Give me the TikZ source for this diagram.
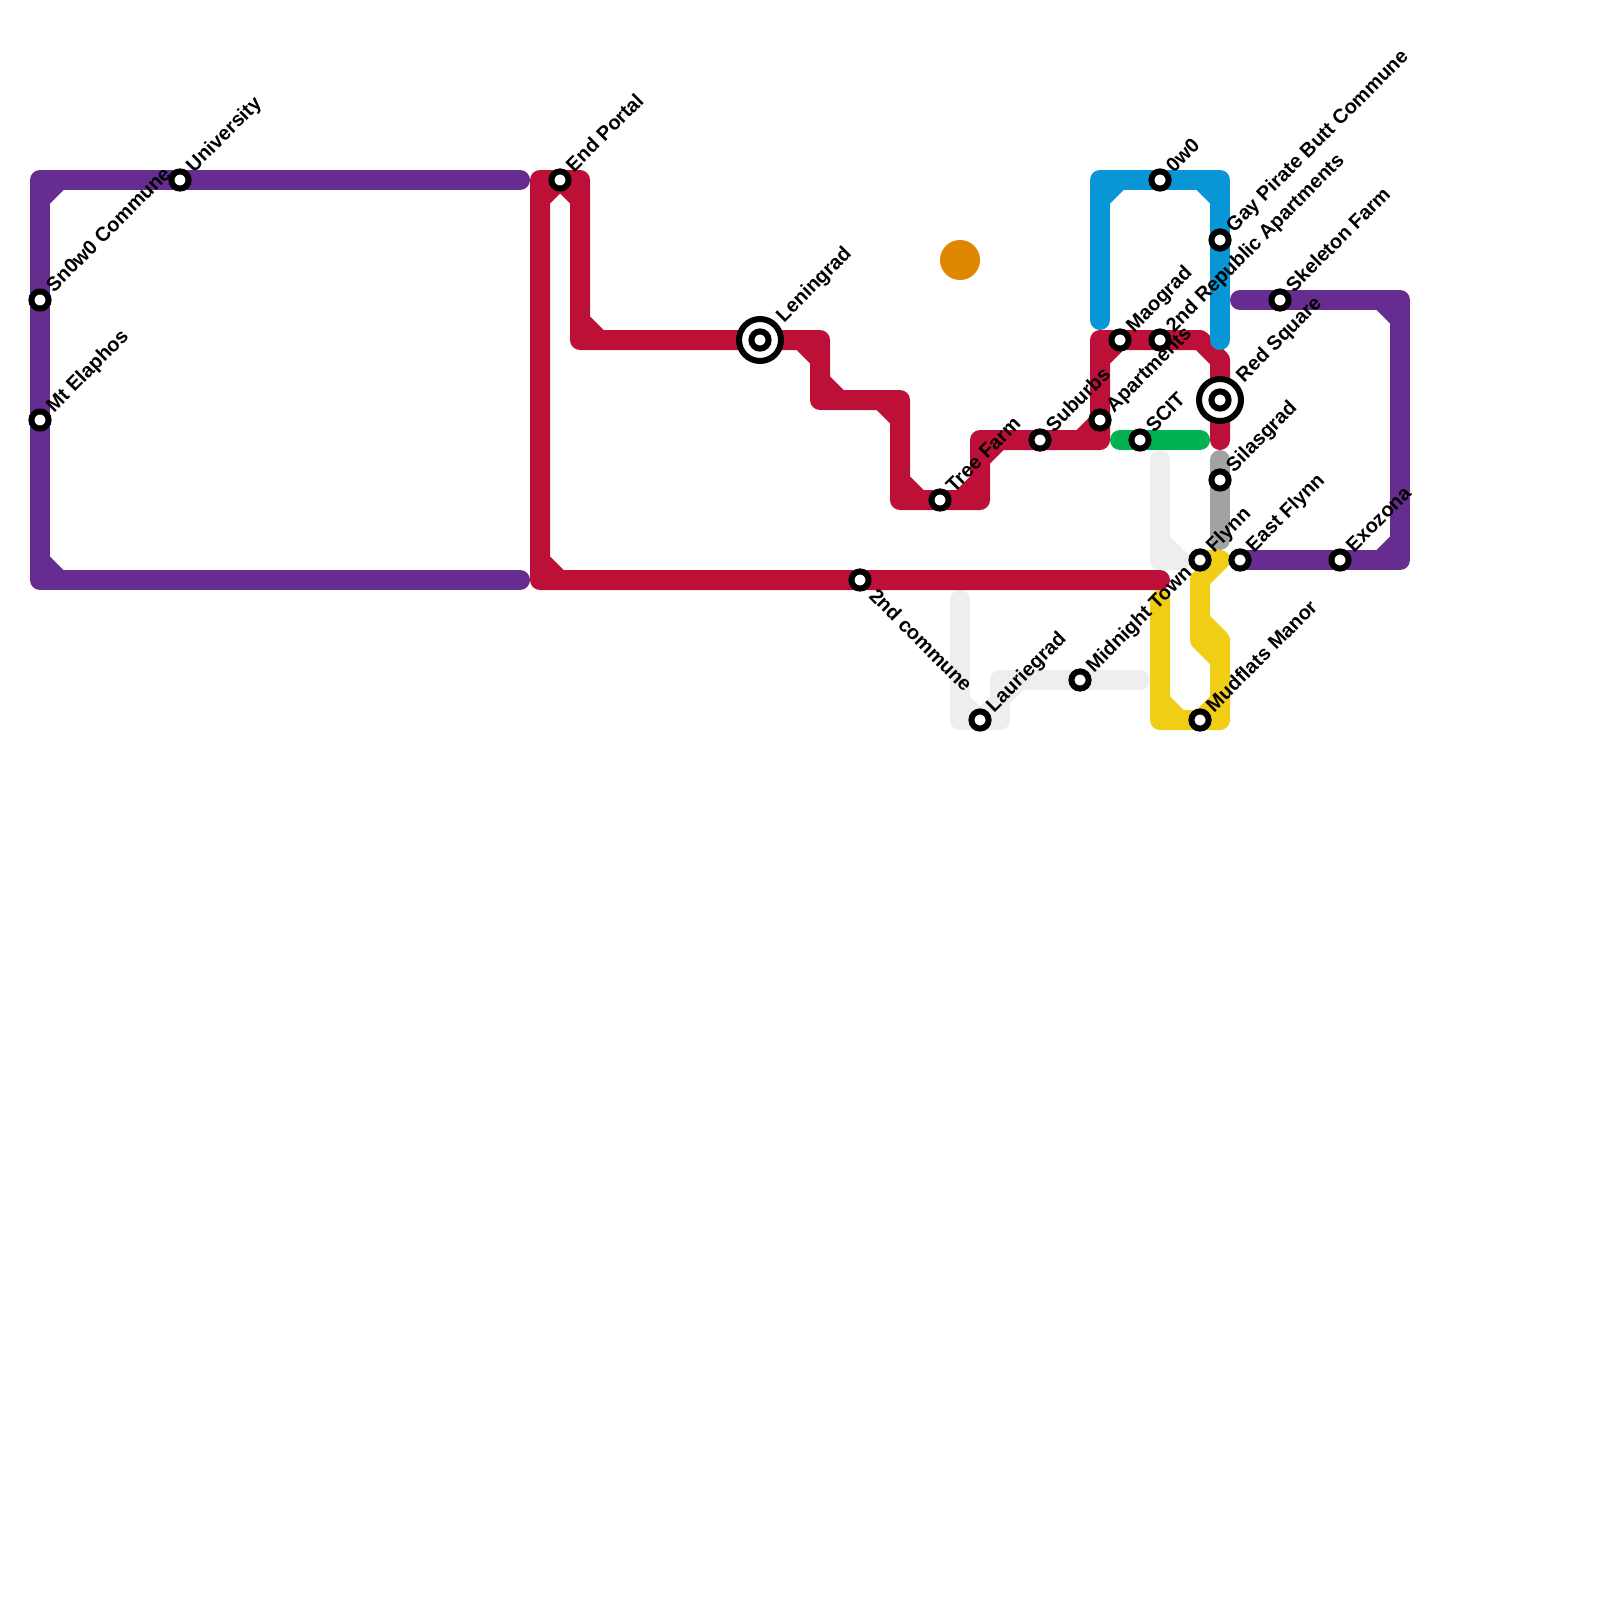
\documentclass[tikz,border=0pt]{standalone}
\usepackage{fontspec}
\setmainfont{Liberation Sans}
\definecolor{cpurple}{HTML}{662C90}
\definecolor{cred}{HTML}{BD1038}
\definecolor{cblue}{HTML}{0896D7}
\definecolor{cgreen}{HTML}{00B251}
\definecolor{cyellow}{HTML}{F0CE15}
\definecolor{cgray}{HTML}{A2A2A2}
\definecolor{clight}{HTML}{EEEEEE}
\definecolor{corange}{HTML}{DF8600}
\tikzset{
  metro/.style={line width=10pt,line cap=round,line join=round},
  stn/.style={circle,draw=black,fill=white,line width=3pt,minimum size=8.6pt,inner sep=0pt,outer sep=0pt},
  hubring/.style={circle,draw=black,fill=white,line width=3pt,minimum size=21pt,inner sep=0pt,outer sep=0pt},
  lbl/.style={anchor=base west,rotate=45,inner sep=0pt,outer sep=0pt,font=\fontsize{10}{12}\selectfont\bfseries,text=black},
  lbld/.style={anchor=base west,rotate=-45,inner sep=0pt,outer sep=0pt,font=\fontsize{10}{12}\selectfont\bfseries,text=black}
}
% inner-corner chamfer: colour, corner x, y, inner direction dx, dy
\newcommand{\chamf}[5]{\fill[#1] ({#2+9*#4},{#3+9*#5}) -- ({#2+23.5*#4},{#3+10*#5}) -- ({#2+10*#4},{#3+23.5*#5}) -- cycle;}
% station: name, x, y, label
\newcommand{\stnlabel}[4]{\node[stn] (#1) at (#2,#3) {};\node[lbl] (#1-label) at (#2+14,#3-7) {#4};}
\begin{document}
\begin{tikzpicture}[x=0.5pt,y=-0.5pt]
\path[use as bounding box,fill=white] (0,0) rectangle (1600,1600);
% light grey lines
\draw[metro,clight] (1160,460) -- (1160,560) -- (1180,560);
\chamf{clight}{1160}{560}{1}{-1}
\draw[metro,clight] (960,600) -- (960,720) -- (1000,720) -- (1000,680) -- (1140,680);
\chamf{clight}{960}{720}{1}{-1}
\chamf{clight}{1000}{720}{-1}{-1}
\chamf{clight}{1000}{680}{1}{1}
% yellow
\draw[metro,cyellow] (1160,600) -- (1160,720) -- (1220,720) -- (1220,660) -- (1200,640) -- (1200,580) -- (1220,560) -- (1200,560);
\draw[metro,cyellow] (1200,620) -- (1220,640) -- (1220,660);
\chamf{cyellow}{1160}{720}{1}{-1}
\chamf{cyellow}{1220}{720}{-1}{-1}
% grey
\draw[metro,cgray] (1220,460) -- (1220,540);
% green
\draw[metro,cgreen] (1120,440) -- (1200,440);
% purple
\draw[metro,cpurple] (520,180) -- (40,180) -- (40,580) -- (520,580);
\chamf{cpurple}{40}{180}{1}{1}
\chamf{cpurple}{40}{580}{1}{-1}
\draw[metro,cpurple] (1240,300) -- (1400,300) -- (1400,560) -- (1240,560);
\chamf{cpurple}{1400}{300}{-1}{1}
\chamf{cpurple}{1400}{560}{-1}{-1}
% red
\draw[metro,cred] (1160,580) -- (540,580) -- (540,180) -- (580,180) -- (580,340) -- (820,340) -- (820,400) -- (900,400) -- (900,500) -- (980,500) -- (980,440) -- (1100,440) -- (1100,340) -- (1200,340) -- (1220,360) -- (1220,440);
\chamf{cred}{540}{580}{1}{-1}
\chamf{cred}{540}{180}{1}{1}
\chamf{cred}{580}{180}{-1}{1}
\chamf{cred}{580}{340}{1}{-1}
\chamf{cred}{820}{340}{-1}{1}
\chamf{cred}{820}{400}{1}{-1}
\chamf{cred}{900}{400}{-1}{1}
\chamf{cred}{900}{500}{1}{-1}
\chamf{cred}{980}{500}{-1}{-1}
\chamf{cred}{980}{440}{1}{1}
\chamf{cred}{1100}{440}{-1}{-1}
\chamf{cred}{1100}{340}{1}{1}
% blue
\draw[metro,cblue] (1100,320) -- (1100,180) -- (1220,180) -- (1220,340);
\chamf{cblue}{1100}{180}{1}{1}
\chamf{cblue}{1220}{180}{-1}{1}
% orange dot
\fill[corange] (960,260) circle[radius=20];
% stations
\stnlabel{university}{180}{180}{University}
\stnlabel{snow}{40}{300}{Sn0w0 Commune}
\stnlabel{elaphos}{40}{420}{Mt Elaphos}
\stnlabel{endportal}{560}{180}{End Portal}
\node[hubring] (leningrad-ring) at (760,340) {};
\node[stn] (leningrad) at (760,340) {};
\node[lbl] (leningrad-label) at (784,323) {Leningrad};
\stnlabel{treefarm}{940}{500}{Tree Farm}
\stnlabel{suburbs}{1040}{440}{Suburbs}
\stnlabel{apartments}{1100}{420}{Apartments}
\stnlabel{maograd}{1120}{340}{Maograd}
\stnlabel{republic}{1160}{340}{2nd Republic Apartments}
\stnlabel{owo}{1160}{180}{0w0}
\stnlabel{pirate}{1220}{240}{Gay Pirate Butt Commune}
\stnlabel{skeleton}{1280}{300}{Skeleton Farm}
\node[hubring] (redsquare-ring) at (1220,400) {};
\node[stn] (redsquare) at (1220,400) {};
\node[lbl] (redsquare-label) at (1244,383) {Red Square};
\stnlabel{scit}{1140}{440}{SCIT}
\stnlabel{silasgrad}{1220}{480}{Silasgrad}
\stnlabel{flynn}{1200}{560}{Flynn}
\stnlabel{eastflynn}{1240}{560}{East Flynn}
\stnlabel{exozona}{1340}{560}{Exozona}
\stnlabel{midnight}{1080}{680}{Midnight Town}
\stnlabel{lauriegrad}{980}{720}{Lauriegrad}
\stnlabel{mudflats}{1200}{720}{Mudflats Manor}
\node[stn] (secondcommune) at (860,580) {};
\node[lbld] (secondcommune-label) at (868,597) {2nd commune};
\end{tikzpicture}
\end{document}
